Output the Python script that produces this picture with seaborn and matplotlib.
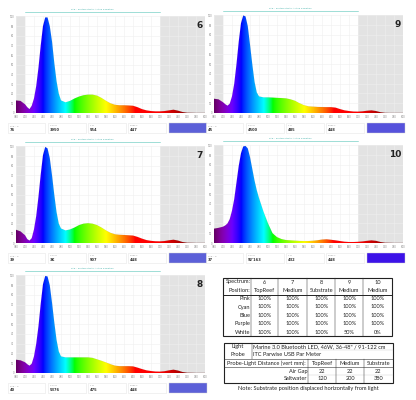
import matplotlib
matplotlib.use("Agg")
import matplotlib.pyplot as plt
import matplotlib.transforms as mtransforms
from matplotlib.patches import Polygon, Rectangle
import numpy as np
import seaborn as sns

# spectra (relative intensity, %)
wavelengths = [380, 390, 400, 405, 410, 415, 420, 425, 430, 435, 440, 445, 450, 455, 460, 465,
               470, 475, 480, 490, 500, 510, 520, 530, 540, 550, 560, 570, 580, 590, 600, 610,
               620, 630, 640, 650, 660, 670, 680, 690, 700, 710, 720, 730, 740, 750, 760, 770,
               780, 790, 800]
spec6 = [13, 12.5, 9, 6, 4, 7.5, 15, 28, 47, 70, 90, 99, 99, 90, 74, 52,
         33, 20, 13, 11, 12.5, 15, 17, 18.4, 19, 19, 18, 15.6, 12.6, 10, 8.5, 8,
         8, 7.8, 7.5, 6, 4, 2.7, 2, 1.7, 1.7, 2, 2.7, 3.4, 2.4, 1, 0.3, 0.2,
         0.1, 0.1, 0.1]
spec7 = [13.7, 12, 8, 4, 2.5, 5, 14, 28, 48, 71, 91, 99.5, 98, 88, 70, 50,
         32, 20, 15, 13, 14, 16, 18.5, 20, 20.5, 20, 18.5, 16, 13, 10.5, 9, 8.5,
         8.3, 8, 7.7, 6.3, 4.5, 3, 2.2, 1.8, 1.7, 2, 2.8, 3.4, 2.5, 1, 0.3, 0.2,
         0.1, 0.1, 0.1]
spec8 = [13.6, 13, 11, 9, 7.5, 9.5, 17, 30, 48, 71, 91, 99.5, 99, 90, 72, 52,
         34, 22, 17, 16, 16, 16, 16, 16, 16, 15.5, 14, 12.5, 10.8, 9, 7.5, 7,
         7, 7, 6.8, 5.5, 4, 2.7, 2, 1.5, 1.4, 1.8, 2.7, 3.4, 2.5, 1, 0.3, 0.2,
         0.1, 0.1, 0.1]
spec9 = [14.6, 14, 11, 9, 7.5, 9.5, 17, 30, 50, 73, 92, 100, 99, 89, 70, 50,
         32, 21, 17, 16, 16, 15.8, 15.5, 15.3, 15, 14, 12.5, 10, 8, 6.8, 6.5, 6.2,
         6.1, 6, 6, 5.5, 4, 2.7, 2, 1.5, 1.4, 1.7, 2.3, 2.7, 2, 0.8, 0.2, 0.1,
         0.1, 0.1, 0.1]
spec10 = [14.7, 15.5, 16.7, 18, 20, 24.5, 33, 45, 62, 79, 92, 99, 99.5, 97, 88, 76,
          64, 54, 46, 32, 20, 10, 6, 4, 3, 2.7, 2.4, 2.1, 2, 2, 2.3, 2.8,
          3.5, 3.8, 3.3, 2.7, 2, 1.3, 1, 1, 1.2, 1.6, 2.2, 2.7, 2.2, 1, 0.3, 0.2,
          0.1, 0.1, 0.1]

panel_names = ["6", "9", "7", "10", "8"]
panel_specs = [spec6, spec9, spec7, spec10, spec8]
readout_labels = ["PAR - Q", "CCT K", "λ D", "Peak λ"]
readout_values = {
    "6": ["76", "3950", "554", "447"],
    "9": ["45", "4500", "485", "448"],
    "7": ["39", "3K", "507", "448"],
    "10": ["37", "92'163", "432", "448"],
    "8": ["40", "5376", "475", "448"],
}
swatch_colors = {"6": "#5c60d8", "9": "#5652dc", "7": "#5c60d8", "10": "#3c12e8", "8": "#5c60d8"}

# table contents
spectra = ["6", "7", "8", "9", "10"]
positions = ["TopReef", "Medium", "Substrate", "Medium", "Medium"]
channels = ["Pink", "Cyan", "Blue", "Purple", "White"]
pink = ["100%", "100%", "100%", "100%", "100%"]
cyan = ["100%", "100%", "100%", "100%", "100%"]
blue = ["100%", "100%", "100%", "100%", "100%"]
purple = ["100%", "100%", "100%", "100%", "100%"]
white = ["100%", "100%", "100%", "50%", "0%"]
light_text = 'Marine 3.0 Bluetooth LED, 46W, 36-48" / 91-122 cm'
probe_text = "ITC Parwise USB Par Meter"
dist_positions = ["TopReef", "Medium", "Substrate"]
air_gap = ["22", "22", "22"]
saltwater = ["120", "200", "380"]
note_text = "Note: Substrate position displaced horizontally from light"

W, H = 416, 400


def px_rect(l, t, r, b):
    return [l / W, 1 - b / H, (r - l) / W, (b - t) / H]


def wl_rgb(w):
    if w < 440:
        r, g, b = (440 - w) / 60, 0.0, 1.0
    elif w < 490:
        r, g, b = 0.0, (w - 440) / 50, 1.0
    elif w < 510:
        r, g, b = 0.0, 1.0, (510 - w) / 20
    elif w < 580:
        r, g, b = (w - 510) / 70, 1.0, 0.0
    elif w < 645:
        r, g, b = 1.0, (645 - w) / 65, 0.0
    else:
        r, g, b = 1.0, 0.0, 0.0
    if w < 420:
        f = 0.3 + 0.7 * (w - 380) / 40
    elif w <= 700:
        f = 1.0
    else:
        f = max(0.3, 0.3 + 0.7 * (780 - w) / 80)
    return [(min(1, max(0, c)) * f) ** 0.8 for c in (r, g, b)]


sns.set_style("white")
plt.rcParams["font.family"] = ["DejaVu Sans"]

fig = plt.figure(figsize=(W / 100, H / 100), dpi=100)
fig.patch.set_facecolor("white")

grad_x = np.linspace(380, 800, 600)
grad = np.array([[wl_rgb(w) for w in grad_x]])

# plot areas in pixels: left, top, right, bottom
layout = [(16, 16, 205, 113), (214, 15, 403, 113),
          (16, 146, 205, 243), (214, 145, 403, 243),
          (16, 275, 205, 373)]

ov = fig.add_axes([0, 0, 1, 1])
ov.set_xlim(0, W)
ov.set_ylim(H, 0)
ov.axis("off")
ov.patch.set_alpha(0)

for (l, t, r, b), name, spec in zip(layout, panel_names, panel_specs):
    ax = fig.add_axes(px_rect(l, t, r, b))
    ax.set_xlim(380, 800)
    ax.set_ylim(0, 100.5)
    ax.axvspan(380, 400, color="#e3e3e3", zorder=0, lw=0)
    ax.axvspan(700, 800, color="#e3e3e3", zorder=0, lw=0)
    ax.set_xticks(range(380, 801, 20))
    ax.set_yticks(range(0, 101, 10))
    ax.tick_params(labelsize=1.8, colors="#888888", length=0, pad=1.5)
    ax.grid(True, color="#efefef", lw=0.4, zorder=0.5)
    for s in ax.spines.values():
        s.set_visible(False)

    poly = Polygon(list(zip(wavelengths, spec)) + [(800, 0), (380, 0)],
                   closed=True, facecolor="none", edgecolor="none")
    ax.add_patch(poly)
    im = ax.imshow(grad, extent=[380, 800, 0, 100.5], aspect="auto",
                   interpolation="bilinear", zorder=2)
    im.set_clip_path(poly)
    sns.lineplot(x=wavelengths, y=spec, ax=ax, color="#000000", lw=0.2, alpha=0.15, zorder=3)

    trans = mtransforms.blended_transform_factory(ax.transData, ax.transAxes)
    ax.plot([400, 700], [1.04, 1.04], transform=trans, color="#8fd8d0", lw=0.6, clip_on=False)
    ax.text(550, 1.06, "PAR - Photosynthetic Active Radiation", transform=trans,
            ha="center", va="bottom", fontsize=1.6, color="#3fb0a8")
    ax.text(0.99, 0.95, name, transform=ax.transAxes, ha="right", va="top",
            fontsize=6.5, fontweight="bold", color="#222222")

    # readout boxes
    dx = l - 16
    bt = b + 10
    for (bl, br), lab, val in zip([(8, 45), (48, 86), (88, 126), (128, 166)],
                                  readout_labels, readout_values[name]):
        ov.add_patch(Rectangle((bl + dx, bt), br - bl, 10, facecolor="white",
                               edgecolor="#e6e6e6", lw=0.4))
        ov.text(bl + dx + 1.5, bt + 3, lab, fontsize=1.6, color="#999999", va="center")
        ov.text(bl + dx + 1.5, bt + 7.3, val, fontsize=2.6, color="#333333",
                va="center", fontweight="bold")
    ov.add_patch(Rectangle((169 + dx, bt), 38, 10, facecolor=swatch_colors[name],
                           edgecolor="#d0d0d0", lw=0.3))

# ---- table 1 ----
tf = dict(fontsize=4.1, family="Lato", color="#222222", va="center")
col_x = [223.3, 251, 278.3, 307.3, 335, 363.3, 391.7]
row_y = [282, 290.3, 298.7, 307, 315.3, 323.7, 332]
t1_top, t1_bot, t1_sep = 277.8, 336.2, 294.5
first_col = ["Spectrum:", "Position:"] + channels
body = [spectra, positions, pink, cyan, blue, purple, white]
for y, lab, vals in zip(row_y, first_col, body):
    ov.text(col_x[1] - 0.8, y, lab, ha="right", **tf)
    for i, v in enumerate(vals):
        ov.text((col_x[i + 1] + col_x[i + 2]) / 2, y, v, ha="center", **tf)
for x in col_x[1:-1]:
    ov.plot([x, x], [t1_top, t1_bot], color="#333333", lw=0.35)
ov.plot([col_x[0], col_x[-1]], [t1_sep, t1_sep], color="#222222", lw=0.7)
ov.add_patch(Rectangle((col_x[0], t1_top), col_x[-1] - col_x[0], t1_bot - t1_top,
                       facecolor="none", edgecolor="#222222", lw=0.8))

# ---- table 2 ----
t2_x = [224, 251.7, 308.3, 336, 364, 392.7]
t2_top, t2_bot = 342.5, 383
r_light, r_probe, r_pld, r_air, r_salt = 346.5, 354.3, 363.2, 371.2, 379
ov.text((t2_x[0] + t2_x[1]) / 2, r_light, "Light", ha="center", **tf)
ov.text((t2_x[0] + t2_x[1]) / 2, r_probe, "Probe", ha="center", **tf)
ov.text(t2_x[1] + 1, r_light, light_text, ha="left", **tf)
ov.text(t2_x[1] + 1, r_probe, probe_text, ha="left", **tf)
ov.text((t2_x[0] + t2_x[2]) / 2, r_pld, "Probe-Light Distance (vert mm):", ha="center", **tf)
ov.text(t2_x[2] - 0.8, r_air, "Air Gap", ha="right", **tf)
ov.text(t2_x[2] - 0.8, r_salt, "Saltwater", ha="right", **tf)
for i in range(3):
    cx = (t2_x[i + 2] + t2_x[i + 3]) / 2
    ov.text(cx, r_pld, dist_positions[i], ha="center", **tf)
    ov.text(cx, r_air, air_gap[i], ha="center", **tf)
    ov.text(cx, r_salt, saltwater[i], ha="center", **tf)
ov.plot([t2_x[1], t2_x[1]], [t2_top, 358.6], color="#333333", lw=0.35)
ov.plot([t2_x[1], t2_x[-1]], [350.4, 350.4], color="#cccccc", lw=0.3)
ov.plot([t2_x[0], t2_x[-1]], [358.6, 358.6], color="#333333", lw=0.4)
ov.plot([t2_x[0], t2_x[-1]], [367.4, 367.4], color="#333333", lw=0.4)
ov.plot([t2_x[2], t2_x[-1]], [375.2, 375.2], color="#cccccc", lw=0.3)
for x in t2_x[2:-1]:
    ov.plot([x, x], [358.6, t2_bot], color="#333333", lw=0.35)
ov.add_patch(Rectangle((t2_x[0], t2_top), t2_x[-1] - t2_x[0], t2_bot - t2_top,
                       facecolor="none", edgecolor="#222222", lw=0.8))
ov.text((t2_x[0] + t2_x[-1]) / 2, 388.5, note_text, ha="center", **tf)

fig.savefig("out.png", dpi=100, facecolor="white")
